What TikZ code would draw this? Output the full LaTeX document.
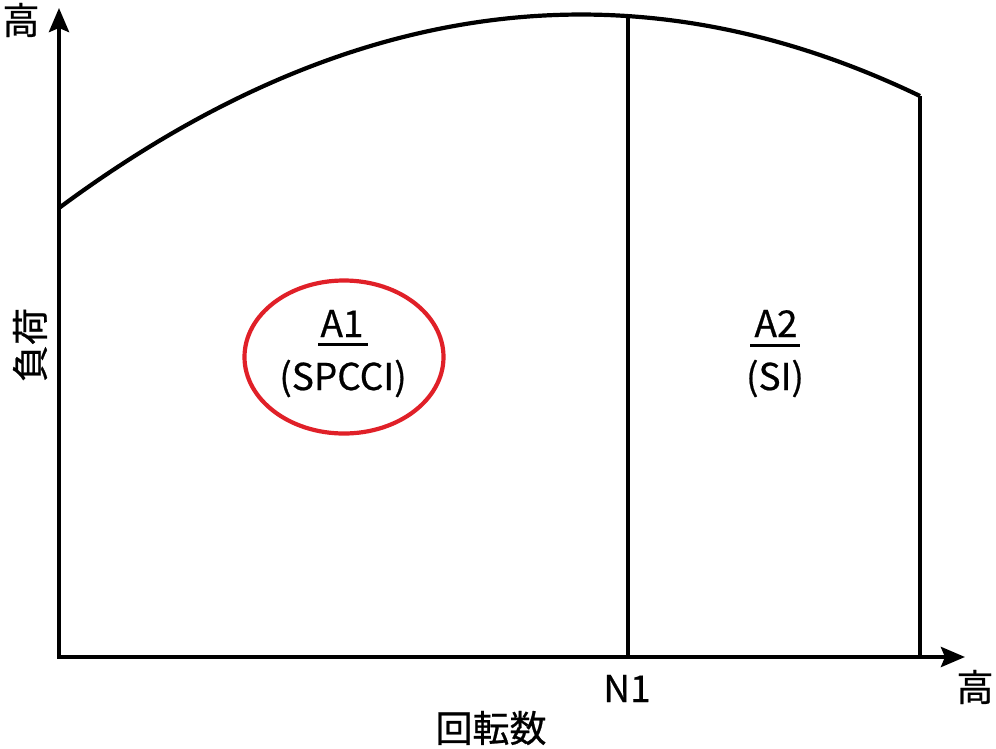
\documentclass[tikz,border=0pt]{standalone}
\usepackage{fontspec}
\setmainfont{Noto Sans CJK JP}[FakeBold=0.6]
\usetikzlibrary{arrows.meta,shapes.geometric}
\definecolor{ovalred}{RGB}{224,32,40}
\begin{document}
\begin{tikzpicture}[x=1pt,y=-1pt,
  tip/.tip={Stealth[length=24pt,width=20pt,inset=4pt]},
  axisline/.style={line width=4.2pt,line join=miter,tip-tip},
  boundline/.style={line width=4.2pt},
  uline/.style={line width=3pt},
  oval/.style={ellipse,draw=ovalred,line width=4.2pt,minimum width=199pt,minimum height=153pt,inner sep=0pt},
  lbl/.style={font=\fontsize{37}{44}\selectfont,inner sep=0pt},
  biglbl/.style={font=\fontsize{37}{44}\selectfont,inner sep=0pt}]
\useasboundingbox (0,0) rectangle (996,748);
% coordinates
\coordinate (O) at (59,657);
\coordinate (ytip) at (59,8);
\coordinate (xtip) at (965,657);
\coordinate (c0) at (59,208);
\coordinate (c1) at (920,96);
\coordinate (n1top) at (628,16);
\coordinate (n1bot) at (628,657);
\coordinate (c1bot) at (920,657);
% axes
\draw[axisline] (ytip) -- (O) -- (xtip);
% boundary curve
\draw[boundline] (c0) .. controls (346,-4.7) and (633,-42) .. (c1);
\draw[boundline] (n1top) -- (n1bot);
\draw[boundline] (c1) -- (c1bot);
% oval
\node[oval] (ov) at (344,357) {};
% region labels
\node[lbl,anchor=base] (a1) at (342,337) {A1};
\draw[uline] ([xshift=-24pt,yshift=-7pt]a1.base) -- ([xshift=26pt,yshift=-7pt]a1.base);
\node[lbl,anchor=base] (spcci) at (343,390) {(SPCCI)};
\node[lbl,anchor=base] (a2) at (776,337) {A2};
\draw[uline] ([xshift=-26pt,yshift=-8pt]a2.base) -- ([xshift=24pt,yshift=-8pt]a2.base);
\node[lbl,anchor=base] (si) at (775,390) {(SI)};
% axis labels
\node[biglbl] (yhigh) at (21,20) {高};
\node[biglbl,rotate=90] (load) at (30,345) {負荷};
\node[lbl,anchor=base] (n1) at (627,702) {N1};
\node[biglbl] (xhigh) at (975,687) {高};
\node[biglbl] (speed) at (491,728) {回転数};
\end{tikzpicture}
\end{document}
